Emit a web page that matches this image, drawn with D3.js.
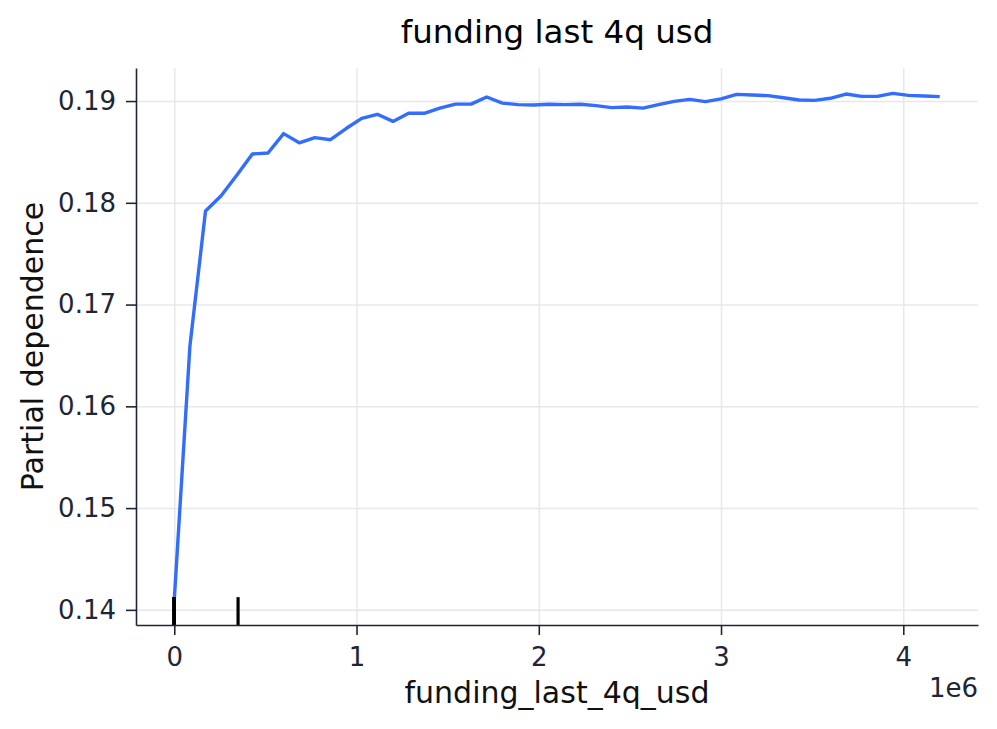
<!DOCTYPE html>
<html>
<head>
<meta charset="utf-8">
<script src="https://cdn.jsdelivr.net/npm/d3@7"></script>
<style>
  body { margin: 0; background: #fff; }
  svg { font-family: "DejaVu Sans", sans-serif; }
  .grid line { stroke: #e8e8ec; stroke-width: 1.5; }
  .grid path { display: none; }
  .axis path, .axis line { stroke: #1e2536; stroke-width: 1.6; }
  .axis text { fill: #1e2536; font-size: 26px; font-family: "DejaVu Sans", sans-serif; }
</style>
</head>
<body>
<div id="chart"></div>
<script>
// grid of feature values (usd)
var grid_values = [0, 85714, 171429, 257143, 342857, 428571, 514286, 600000, 685714, 771429,
  857143, 942857, 1028571, 1114286, 1200000, 1285714, 1371429, 1457143, 1542857, 1628571,
  1714286, 1800000, 1885714, 1971429, 2057143, 2142857, 2228571, 2314286, 2400000, 2485714,
  2571429, 2657143, 2742857, 2828571, 2914286, 3000000, 3085714, 3171429, 3257143, 3342857,
  3428571, 3514286, 3600000, 3685714, 3771429, 3857143, 3942857, 4028571, 4114286, 4200000];

// averaged predictions
var pd_values = [0.1410, 0.1659, 0.1792, 0.1807, 0.1827, 0.1848, 0.1849, 0.1868, 0.1859, 0.1864,
  0.1862, 0.1873, 0.1883, 0.1887, 0.1880, 0.1888, 0.1888, 0.1893, 0.1897, 0.1897,
  0.1904, 0.1898, 0.18965, 0.18961, 0.18968, 0.18965, 0.18968, 0.18955, 0.18935, 0.18941,
  0.18931, 0.18965, 0.18997, 0.19017, 0.18994, 0.19022, 0.19066, 0.19059, 0.19053, 0.19033,
  0.19010, 0.19007, 0.19027, 0.19069, 0.19046, 0.19046, 0.19076, 0.19056, 0.19049, 0.19043];

// deciles of the feature (rug)
var deciles = [0, 0, 0, 0, 0, 0, 0, 0, 350000];

var x_ticks = [0, 1e6, 2e6, 3e6, 4e6];
var y_ticks = [0.14, 0.15, 0.16, 0.17, 0.18, 0.19];

var width = 997, height = 729;
var margin = {top: 68, right: 19, bottom: 104, left: 136};
var w = width - margin.left - margin.right;
var h = height - margin.top - margin.bottom;

var data = grid_values.map(function(d, i) { return {x: d, y: pd_values[i]}; });

// matplotlib style 5% margins
function padded(ext) {
  var pad = (ext[1] - ext[0]) * 0.05;
  return [ext[0] - pad, ext[1] + pad];
}

var xScale = d3.scaleLinear()
  .domain(padded(d3.extent(grid_values)))
  .range([0, w]);

var yScale = d3.scaleLinear()
  .domain(padded(d3.extent(pd_values)))
  .range([h, 0]);

var svg = d3.select("#chart")
  .append("svg")
  .attr("width", width)
  .attr("height", height)
  .append("g")
  .attr("transform", "translate(" + margin.left + "," + margin.top + ")");

// grid
svg.append("g")
  .attr("class", "grid")
  .call(d3.axisLeft(yScale).tickValues(y_ticks).tickSize(-w).tickFormat(""));

svg.append("g")
  .attr("class", "grid")
  .attr("transform", "translate(0," + h + ")")
  .call(d3.axisBottom(xScale).tickValues(x_ticks).tickSize(-h).tickFormat(""));

// line
svg.append("path")
  .datum(data)
  .attr("fill", "none")
  .attr("stroke", "#336dff")
  .attr("stroke-width", 3.4)
  .attr("stroke-linejoin", "round")
  .attr("d", d3.line()
    .x(function(d) { return xScale(d.x); })
    .y(function(d) { return yScale(d.y); }));

// rug of deciles
svg.selectAll(".rug")
  .data(deciles)
  .enter()
  .append("line")
  .attr("class", "rug")
  .attr("x1", function(d) { return xScale(d); })
  .attr("x2", function(d) { return xScale(d); })
  .attr("y1", h)
  .attr("y2", h * 0.95)
  .attr("stroke", "#000")
  .attr("stroke-width", 3.2);

// axes
svg.append("g")
  .attr("class", "axis")
  .attr("transform", "translate(0," + h + ")")
  .call(d3.axisBottom(xScale)
    .tickValues(x_ticks)
    .tickSize(10)
    .tickSizeOuter(0)
    .tickPadding(13)
    .tickFormat(function(d) { return d / 1e6; }));

svg.append("g")
  .attr("class", "axis")
  .call(d3.axisLeft(yScale)
    .tickValues(y_ticks)
    .tickSize(10)
    .tickSizeOuter(0)
    .tickPadding(10)
    .tickFormat(d3.format(".2f")));

// offset text
svg.append("text")
  .attr("x", w)
  .attr("y", h + 72)
  .attr("text-anchor", "end")
  .attr("font-size", "26px")
  .attr("fill", "#1e2536")
  .text("1e6");

// axis labels
svg.append("text")
  .attr("x", w / 2)
  .attr("y", h + 78)
  .attr("text-anchor", "middle")
  .attr("font-size", "30px")
  .attr("fill", "#111")
  .text("funding_last_4q_usd");

svg.append("text")
  .attr("transform", "translate(" + (43 - margin.left) + "," + (h / 2) + ") rotate(-90)")
  .attr("text-anchor", "middle")
  .attr("font-size", "30px")
  .attr("fill", "#111")
  .text("Partial dependence");

// title
svg.append("text")
  .attr("x", w / 2)
  .attr("y", 43 - margin.top)
  .attr("text-anchor", "middle")
  .attr("font-size", "32.5px")
  .attr("fill", "#000")
  .text("funding last 4q usd");
</script>
</body>
</html>
